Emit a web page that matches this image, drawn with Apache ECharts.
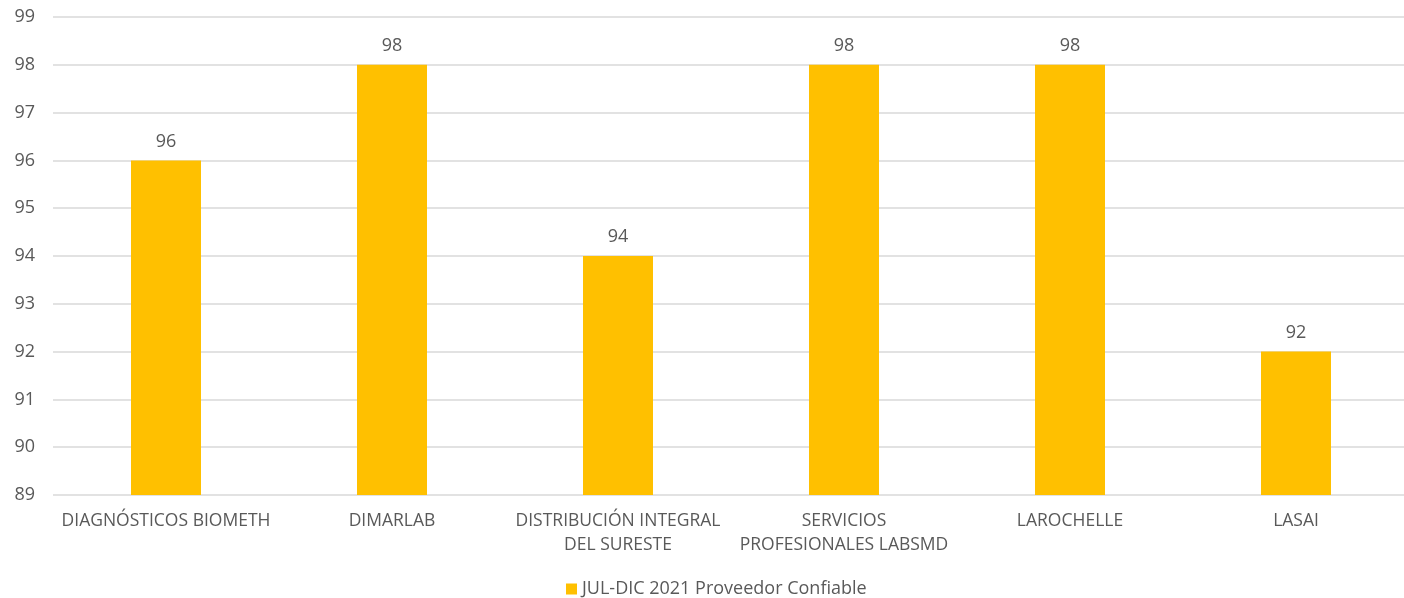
<!DOCTYPE html>
<html>
<head>
<meta charset="utf-8">
<script src="https://cdn.jsdelivr.net/npm/echarts@6/dist/echarts.min.js"></script>
<style>
  html, body {margin: 0; padding: 0; background: #fff; overflow: hidden;}
  #chart {width: 1410px; height: 598px;}
</style>
</head>
<body>
<div id="chart"></div>
<script>
const categories = [
  'DIAGNÓSTICOS BIOMETH',
  'DIMARLAB',
  'DISTRIBUCIÓN INTEGRAL\nDEL SURESTE',
  'SERVICIOS\nPROFESIONALES LABSMD',
  'LAROCHELLE',
  'LASAI'
];
const seriesName = 'JUL-DIC 2021 Proveedor Confiable';
const scores = [96, 98, 94, 98, 98, 92];
const yMin = 89;
const yMax = 99;

const font = '"Open Sans", "Noto Sans", sans-serif';
const grey = '#595959';

// chart div is a few px wider than the window: the plot runs off the right edge
var myChart = echarts.init(document.getElementById('chart'));
myChart.setOption({
  animation: false,
  textStyle: {fontFamily: font},
  grid: {left: 53, top: 17, width: 1356, height: 478, containLabel: false},
  legend: {
    left: 561,
    top: 575,
    itemWidth: 11,
    itemHeight: 11,
    icon: 'rect',
    textStyle: {color: grey, fontSize: 18, fontFamily: font},
    data: [seriesName]
  },
  xAxis: {
    type: 'category',
    data: categories,
    axisLine: {show: false},
    axisTick: {show: false},
    axisLabel: {
      color: grey,
      fontSize: 17.5,
      fontFamily: font,
      lineHeight: 24,
      margin: 14,
      interval: 0
    }
  },
  yAxis: {
    type: 'value',
    min: yMin,
    max: yMax,
    interval: 1,
    axisLine: {show: false},
    axisTick: {show: false},
    splitLine: {lineStyle: {color: '#d9d9d9', width: 1.5}},
    axisLabel: {color: grey, fontSize: 18, fontFamily: font, margin: 18}
  },
  series: [{
    name: seriesName,
    type: 'bar',
    data: scores,
    barWidth: 70,
    itemStyle: {color: '#ffc000'},
    label: {
      show: true,
      position: 'top',
      distance: 10,
      color: grey,
      fontSize: 18,
      fontFamily: font
    }
  }]
});
</script>
</body>
</html>
